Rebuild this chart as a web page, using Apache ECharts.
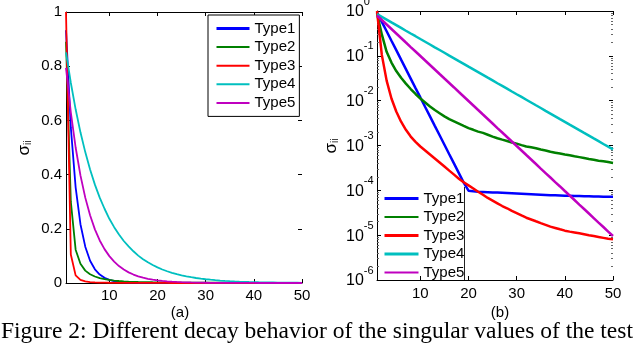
<!DOCTYPE html>
<html><head><meta charset="utf-8">
<script src="https://cdn.jsdelivr.net/npm/echarts@6/dist/echarts.min.js"></script>
<style>html,body{margin:0;padding:0;background:#fff}#c{width:640px;height:348px}</style>
</head><body><div id="c"></div>
<script>
const idx = [1,2,3,4,5,6,7,8,9,10,11,12,13,14,15,16,17,18,19,20,21,22,23,24,25,26,27,28,29,30,31,32,33,34,35,36,37,38,39,40,41,42,43,44,45,46,47,48,49,50];
const names = ['Type1','Type2','Type3','Type4','Type5'];
const type1 = [0.933,0.574,0.353,0.217,0.134,0.0822,0.0506,0.0311,0.0191,0.0118,0.00724,0.00446,0.00274,0.00169,0.00104,0.000638,0.000393,0.000242,0.000149,9.8e-5,9.5e-5,9.3e-5,9.2e-5,9.1e-5,9.0e-5,8.9e-5,8.8e-5,8.7e-5,8.6e-5,8.5e-5,8.4e-5,8.3e-5,8.2e-5,8.1e-5,8.0e-5,7.9e-5,7.8e-5,7.8e-5,7.7e-5,7.6e-5,7.6e-5,7.5e-5,7.5e-5,7.4e-5,7.4e-5,7.3e-5,7.3e-5,7.2e-5,7.2e-5,7.2e-5];
const type2 = [0.89,0.30,0.123,0.0708,0.0457,0.0324,0.024,0.0182,0.0141,0.0112,0.00912,0.00741,0.00617,0.00525,0.00447,0.00389,0.00347,0.00309,0.00275,0.00245,0.00224,0.00204,0.00191,0.00174,0.00158,0.00145,0.00135,0.00126,0.00117,0.0011,0.00102,0.00095,0.000912,0.000871,0.000813,0.000776,0.000724,0.000692,0.000661,0.000631,0.000603,0.000575,0.00055,0.000525,0.000501,0.000479,0.000457,0.000447,0.000427,0.000407];
const type3 = [1.0,0.105,0.028,0.0112,0.00575,0.00339,0.00224,0.00158,0.0012,0.00095,0.000776,0.000631,0.000513,0.000417,0.000339,0.000275,0.000224,0.000182,0.000151,0.000129,0.00011,9.33e-5,7.94e-5,6.76e-5,5.89e-5,5.13e-5,4.47e-5,3.98e-5,3.47e-5,3.09e-5,2.75e-5,2.45e-5,2.24e-5,2.04e-5,1.86e-5,1.70e-5,1.55e-5,1.45e-5,1.35e-5,1.26e-5,1.20e-5,1.15e-5,1.10e-5,1.05e-5,1.0e-5,9.55e-6,9.12e-6,8.71e-6,8.32e-6,8.13e-6];
const type4 = [0.851,0.739,0.641,0.556,0.483,0.419,0.363,0.315,0.274,0.237,0.206,0.179,0.155,0.135,0.117,0.101,0.088,0.0763,0.0663,0.0575,0.0499,0.0433,0.0376,0.0326,0.0283,0.0245,0.0213,0.0185,0.016,0.0139,0.0121,0.0105,0.0091,0.00789,0.00685,0.00594,0.00516,0.00448,0.00388,0.00337,0.00292,0.00254,0.0022,0.00191,0.00166,0.00144,0.00125,0.00108,0.00094,0.000816];
const type5 = [0.794,0.63,0.5,0.397,0.315,0.25,0.198,0.157,0.125,0.0992,0.0787,0.0625,0.0496,0.0393,0.0312,0.0248,0.0197,0.0156,0.0124,0.00983,0.0078,0.00619,0.00491,0.0039,0.00309,0.00245,0.00195,0.00155,0.00123,0.000974,0.000773,0.000613,0.000487,0.000386,0.000306,0.000243,0.000193,0.000153,0.000122,9.65e-5,7.66e-5,6.08e-5,4.82e-5,3.83e-5,3.04e-5,2.41e-5,1.91e-5,1.52e-5,1.2e-5,9.56e-6];
const xTicks = [10,20,30,40,50];
const yTicksLog = [1e-6,1e-5,1e-4,1e-3,1e-2,1e-1,1];
const colors = ['#0000ff','#008000','#ff0000','#00bfbf','#bf00bf'];
const allSeries = [type1,type2,type3,type4,type5];

const minorLog = [];
for (let k = -6; k < 0; k++) for (let m = 2; m <= 9; m++) minorLog.push(m * Math.pow(10, k));

const font = 'Liberation Sans';
const chart = echarts.init(document.getElementById('c'), null, {renderer:'canvas', width:640, height:348});

function xAx(g, pos, labels) {
  return {gridIndex:g, type:'value', min:1, max:50, position:pos,
    axisLine:{show:true, onZero:false, lineStyle:{color:'#000', width:1}},
    axisTick:{show:true, inside:true, length:4, customValues:xTicks, lineStyle:{color:'#000'}},
    axisLabel:{show:labels, customValues:xTicks, color:'#000', fontFamily:font, fontSize:15, margin:g===0?5:6},
    splitLine:{show:false}};
}
const logRich = {
  b:{fontFamily:font, fontSize:16, color:'#000', lineHeight:18, verticalAlign:'bottom'},
  s:{fontFamily:font, fontSize:11, color:'#000', lineHeight:18, verticalAlign:'top', padding:[-6,0,0,0]}
};
const hideSym = {opacity:0};
const option = {
  animation:false,
  backgroundColor:'#fff',
  grid:[
    {left:66, top:12, width:236, height:271, outerBoundsMode:'none'},
    {left:377, top:11, width:236, height:269, outerBoundsMode:'none'}
  ],
  xAxis:[xAx(0,'bottom',true), xAx(0,'top',false), xAx(1,'bottom',true), xAx(1,'top',false)],
  yAxis:[
    {gridIndex:0, type:'value', min:0, max:1, interval:0.2, position:'left',
     axisLine:{show:true, lineStyle:{color:'#000'}},
     axisTick:{show:true, inside:true, length:4, lineStyle:{color:'#000'}},
     axisLabel:{color:'#000', fontFamily:font, fontSize:15, margin:4},
     splitLine:{show:false}},
    {gridIndex:0, type:'value', min:0, max:1, interval:0.2, position:'right',
     axisLine:{show:false},
     axisTick:{show:true, inside:true, length:4, lineStyle:{color:'#000'}},
     axisLabel:{show:false}, splitLine:{show:false}},
    {gridIndex:1, type:'log', logBase:10, min:1e-6, max:1, position:'left',
     axisLine:{show:true, lineStyle:{color:'#000'}},
     axisTick:{show:true, inside:true, length:4, customValues:yTicksLog, lineStyle:{color:'#000'}},
     axisLabel:{customValues:yTicksLog, align:'left', margin:31,
       formatter:function(v){return '{b|10}{s|' + Math.round(Math.log10(v)) + '}';}, rich:logRich},
     splitLine:{show:false}},
    {gridIndex:1, type:'log', logBase:10, min:1e-6, max:1, position:'right',
     axisLine:{show:false},
     axisTick:{show:true, inside:true, length:4, customValues:yTicksLog, lineStyle:{color:'#000'}},
     axisLabel:{show:false}, splitLine:{show:false}},
    {gridIndex:1, type:'log', logBase:10, min:1e-6, max:1, position:'left',
     axisLine:{show:false},
     axisTick:{show:true, inside:true, length:2, customValues:minorLog, lineStyle:{color:'#666'}},
     axisLabel:{show:false}, splitLine:{show:false}},
    {gridIndex:1, type:'log', logBase:10, min:1e-6, max:1, position:'right',
     axisLine:{show:false},
     axisTick:{show:true, inside:true, length:2, customValues:minorLog, lineStyle:{color:'#666'}},
     axisLabel:{show:false}, splitLine:{show:false}}
  ],
  legend:[
    {left:208, top:15, orient:'vertical', itemWidth:33, itemHeight:14, itemGap:3.6,
     padding:[6,4,6,7], borderColor:'#000', borderWidth:1, borderRadius:0, backgroundColor:'#fff',
     selectedMode:false, itemStyle:hideSym, textStyle:{fontFamily:font, fontSize:15, color:'#000'},
     data:names.map((n,i)=>({name:n, itemStyle:hideSym, lineStyle:{width:i===0?3:2}}))},
    {left:377, top:189, orient:'vertical', itemWidth:34, itemHeight:14, itemGap:3.5,
     padding:[2,4,2,6], borderWidth:0, selectedMode:false, itemStyle:hideSym,
     textStyle:{fontFamily:font, fontSize:15, color:'#000'},
     data:names.map((n,i)=>({name:n, itemStyle:hideSym, lineStyle:{width:(i===1||i===4)?2:3}}))}
  ],
  series:[],
  graphic:[
    {type:'line', shape:{x1:464.5, y1:187, x2:464.5, y2:280}, style:{stroke:'#222', lineWidth:1}},
    {type:'text', x:24, y:148, rotation:Math.PI/2, style:{text:'{a|σ}{i|ii}', align:'center', verticalAlign:'middle',
      rich:{a:{fontFamily:font, fontSize:17, fill:'#000'}, i:{fontFamily:font, fontSize:10, fill:'#000', padding:[8,0,0,0]}}}},
    {type:'text', x:331, y:146, rotation:Math.PI/2, style:{text:'{a|σ}{i|ii}', align:'center', verticalAlign:'middle',
      rich:{a:{fontFamily:font, fontSize:17, fill:'#000'}, i:{fontFamily:font, fontSize:10, fill:'#000', padding:[8,0,0,0]}}}},
    {type:'text', x:180, y:313, style:{text:'(a)', align:'center', verticalAlign:'middle', font:'15px "Liberation Sans"', fill:'#000'}},
    {type:'text', x:500, y:313, style:{text:'(b)', align:'center', verticalAlign:'middle', font:'15px "Liberation Sans"', fill:'#000'}},
    {type:'text', x:1, y:332, style:{text:'Figure 2: Different decay behavior of the singular values of the test', align:'left', verticalAlign:'middle', font:'23.5px "Liberation Serif"', fill:'#000'}}
  ]
};
allSeries.forEach((arr,i)=>{
  option.series.push({name:names[i], type:'line', xAxisIndex:0, yAxisIndex:0, symbol:'none', silent:true,
    lineStyle:{color:colors[i], width:1.8}, itemStyle:{color:colors[i]},
    data:idx.map((x,j)=>[x, arr[j]])});
});
allSeries.forEach((arr,i)=>{
  option.series.push({name:names[i], type:'line', xAxisIndex:2, yAxisIndex:2, symbol:'none', silent:true,
    lineStyle:{color:colors[i], width:2.5}, itemStyle:{color:colors[i]},
    data:idx.map((x,j)=>[x, arr[j]])});
});
chart.setOption(option);
</script>
</body></html>
